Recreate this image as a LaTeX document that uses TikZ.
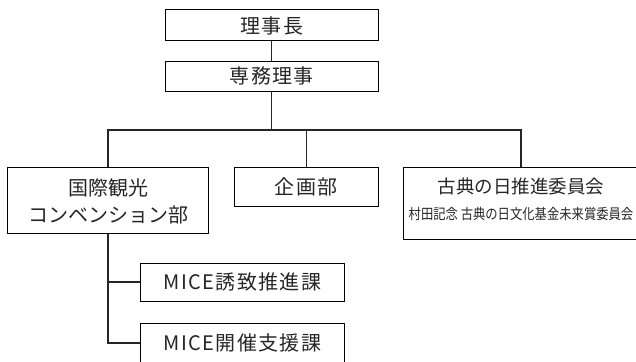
\documentclass[tikz,border=0pt]{standalone}
\usepackage{fontspec}
\setmainfont{Noto Sans CJK JP}
\newfontfamily\narrowjp{Noto Sans CJK JP}[FakeStretch=0.85]
\newfontfamily\widejp{Noto Sans CJK JP}[LetterSpace=7]
\begin{document}
\begin{tikzpicture}[x=1pt, y=-1pt]
    \tikzset{
        unit/.style={draw, line width=1pt, inner sep=0pt, align=center,
            font=\fontsize{20}{27}\selectfont, text=black!85},
        link/.style={line width=1.3pt, black!85}
    }
    \useasboundingbox (0,0) rectangle (636,361);
    % top
    \node[unit, minimum width=212.5, minimum height=31] (chair) at (271.75,25.5) {\widejp 理事長};
    \node[unit, minimum width=212.5, minimum height=30] (exec) at (271.75,76) {\widejp 専務理事};
    % departments
    \node[unit, minimum width=201.7, minimum height=66, text height=49.2pt, text depth=4pt,
        font=\fontsize{20}{27.3}\selectfont] (intl) at (108.1,200)
        {国際観光\\コンベンション部};
    \node[unit, minimum width=143.5, minimum height=39] (plan) at (306.25,186.5) {\widejp 企画部};
    \node[unit, minimum width=235, minimum height=72, text height=36pt, text depth=4pt,
        font=\fontsize{18.5}{25.3}\selectfont] (koten) at (521,203)
        {古典の日推進委員会\\{\narrowjp\fontsize{14.5}{16}\selectfont 村田記念 古典の日文化基金未来賞委員会}};
    % sections
    \node[unit, minimum width=204.8, minimum height=38] (mice1) at (242.4,282) {\widejp MICE誘致推進課};
    \node[unit, minimum width=204.8, minimum height=40] (mice2) at (242.4,343) {\widejp MICE開催支援課};
    \coordinate (bus) at (271.75,130);
    \draw[link] (chair.south) -- (exec.north);
    \draw[link] (exec.south) -- (bus);
    \draw[link] (intl.north) -- (intl.north |- bus) -- (bus -| koten.north) -- (koten.north);
    \draw[link] (plan.north) -- (plan.north |- bus);
    \draw[link] (intl.south) -- (intl.south |- mice2.west) -- (mice2.west);
    \draw[link] (intl.south |- mice1.west) -- (mice1.west);
\end{tikzpicture}
\end{document}
